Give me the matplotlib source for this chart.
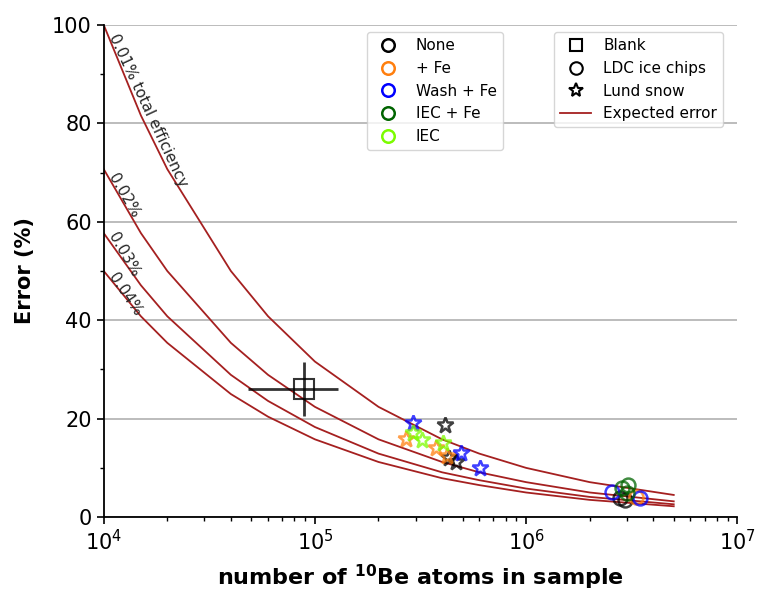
import numpy as np
import matplotlib
matplotlib.use("Agg")
import matplotlib.pyplot as plt
from matplotlib.lines import Line2D

# expected error curves
n_atoms = [1e4, 1.5e4, 2e4, 4e4, 6e4, 1e5, 2e5, 4e5, 6e5, 1e6, 2e6, 5e6]
err_001 = [100, 81.6, 70.7, 50.0, 40.8, 31.6, 22.4, 15.8, 12.9, 10.0, 7.1, 4.5]
err_002 = [70.7, 57.7, 50.0, 35.4, 28.9, 22.4, 15.8, 11.2, 9.1, 7.1, 5.0, 3.2]
err_003 = [57.7, 47.1, 40.8, 28.9, 23.6, 18.3, 12.9, 9.1, 7.5, 5.8, 4.1, 2.6]
err_004 = [50.0, 40.8, 35.4, 25.0, 20.4, 15.8, 11.2, 7.9, 6.5, 5.0, 3.5, 2.2]

# blank
blank_x, blank_y = 8.9e4, 26.0
blank_xerr = [[4.1e4], [3.9e4]]
blank_yerr = 5.5

# treatments
treat_names = ["None", "+ Fe", "Wash + Fe", "IEC + Fe", "IEC"]
treat_colors = ["black", "#ff7f0e", "blue", "darkgreen", "lawngreen"]

# Lund snow (stars)
snow_x = {
    "None": [4.13e5, 4.3e5, 4.66e5],
    "+ Fe": [2.70e5, 3.74e5, 4.23e5],
    "Wash + Fe": [2.91e5, 4.92e5, 6.05e5],
    "IEC + Fe": [],
    "IEC": [2.91e5, 3.21e5, 4.05e5],
}
snow_y = {
    "None": [18.7, 12.0, 11.2],
    "+ Fe": [15.9, 14.0, 12.4],
    "Wash + Fe": [19.1, 13.0, 10.0],
    "IEC + Fe": [],
    "IEC": [17.1, 15.7, 15.0],
}

# LDC ice chips (circles)
ice_x = {
    "None": [2.79e6, 2.95e6],
    "+ Fe": [3.32e6],
    "Wash + Fe": [2.56e6, 3.47e6],
    "IEC + Fe": [2.85e6, 3.04e6, 3.01e6],
    "IEC": [],
}
ice_y = {
    "None": [3.9, 3.5],
    "+ Fe": [4.1],
    "Wash + Fe": [5.1, 3.9],
    "IEC + Fe": [5.9, 6.5, 4.9],
    "IEC": [],
}

fig = plt.figure(figsize=(7.57, 5.93), dpi=100)
ax = fig.add_axes([0.137, 0.128, 0.837, 0.83])

curve_col = "#a52020"
for e in [err_001, err_002, err_003, err_004]:
    ax.plot(n_atoms, e, color=curve_col, lw=1.3, zorder=2)

ax.errorbar(blank_x, blank_y, xerr=blank_xerr, yerr=blank_yerr, fmt="s",
            ms=15, mfc="none", mec="black", mew=1.5, ecolor="black",
            elinewidth=2, alpha=0.8, zorder=3)

for name, col in zip(treat_names, treat_colors):
    ax.plot(snow_x[name], snow_y[name], "*", ms=12, mfc="none", mec=col,
            mew=1.8, alpha=0.75, ls="none", zorder=4)
    ax.plot(ice_x[name], ice_y[name], "o", ms=10, mfc="none", mec=col,
            mew=1.8, alpha=0.75, ls="none", zorder=4)

ax.set_xscale("log")
ax.set_xlim(1e4, 1e7)
ax.set_ylim(0, 100)
ax.set_yticks([0, 20, 40, 60, 80, 100])
ax.set_yticks([10, 30, 50, 70, 90], minor=True)
ax.grid(axis="y", which="major", color="#b0b0b0", lw=1.2)
ax.set_axisbelow(True)
for s in ["top", "right"]:
    ax.spines[s].set_visible(False)
for s in ["left", "bottom"]:
    ax.spines[s].set_linewidth(1.3)
ax.tick_params(labelsize=15, length=5, width=1.2)
ax.tick_params(which="minor", length=3, width=1)

ax.set_xlabel(r"number of $\mathbf{^{10}}$Be atoms in sample", fontsize=16,
              fontweight="bold", labelpad=6)
ax.set_ylabel("Error (%)", fontsize=15, fontweight="bold", labelpad=12)

# curve labels
lab_kw = dict(fontsize=11, color="0.15", ha="left", va="center",
              rotation_mode="anchor")
ax.text(1.10e4, 98.0, "0.01% total efficiency", rotation=-65, **lab_kw)
ax.text(1.09e4, 69.6, "0.02%", rotation=-60, **lab_kw)
ax.text(1.09e4, 57.6, "0.03%", rotation=-60, **lab_kw)
ax.text(1.09e4, 49.3, "0.04%", rotation=-56, **lab_kw)

h1 = [Line2D([], [], marker="o", ls="none", ms=9, mfc="none", mec=c, mew=1.8)
      for c in treat_colors]
leg1 = ax.legend(h1, treat_names, loc="upper left", bbox_to_anchor=(0.415, 0.985),
                 borderaxespad=0, fontsize=11)
ax.add_artist(leg1)

h2 = [Line2D([], [], marker="s", ls="none", ms=9, mfc="none", mec="black", mew=1.5),
      Line2D([], [], marker="o", ls="none", ms=9, mfc="none", mec="black", mew=1.5),
      Line2D([], [], marker="*", ls="none", ms=10, mfc="none", mec="black", mew=1.5),
      Line2D([], [], color=curve_col, lw=1.3)]
ax.legend(h2, ["Blank", "LDC ice chips", "Lund snow", "Expected error"],
          loc="upper left", bbox_to_anchor=(0.711, 0.985), borderaxespad=0,
          fontsize=11)

fig.savefig("out.png", dpi=100)
